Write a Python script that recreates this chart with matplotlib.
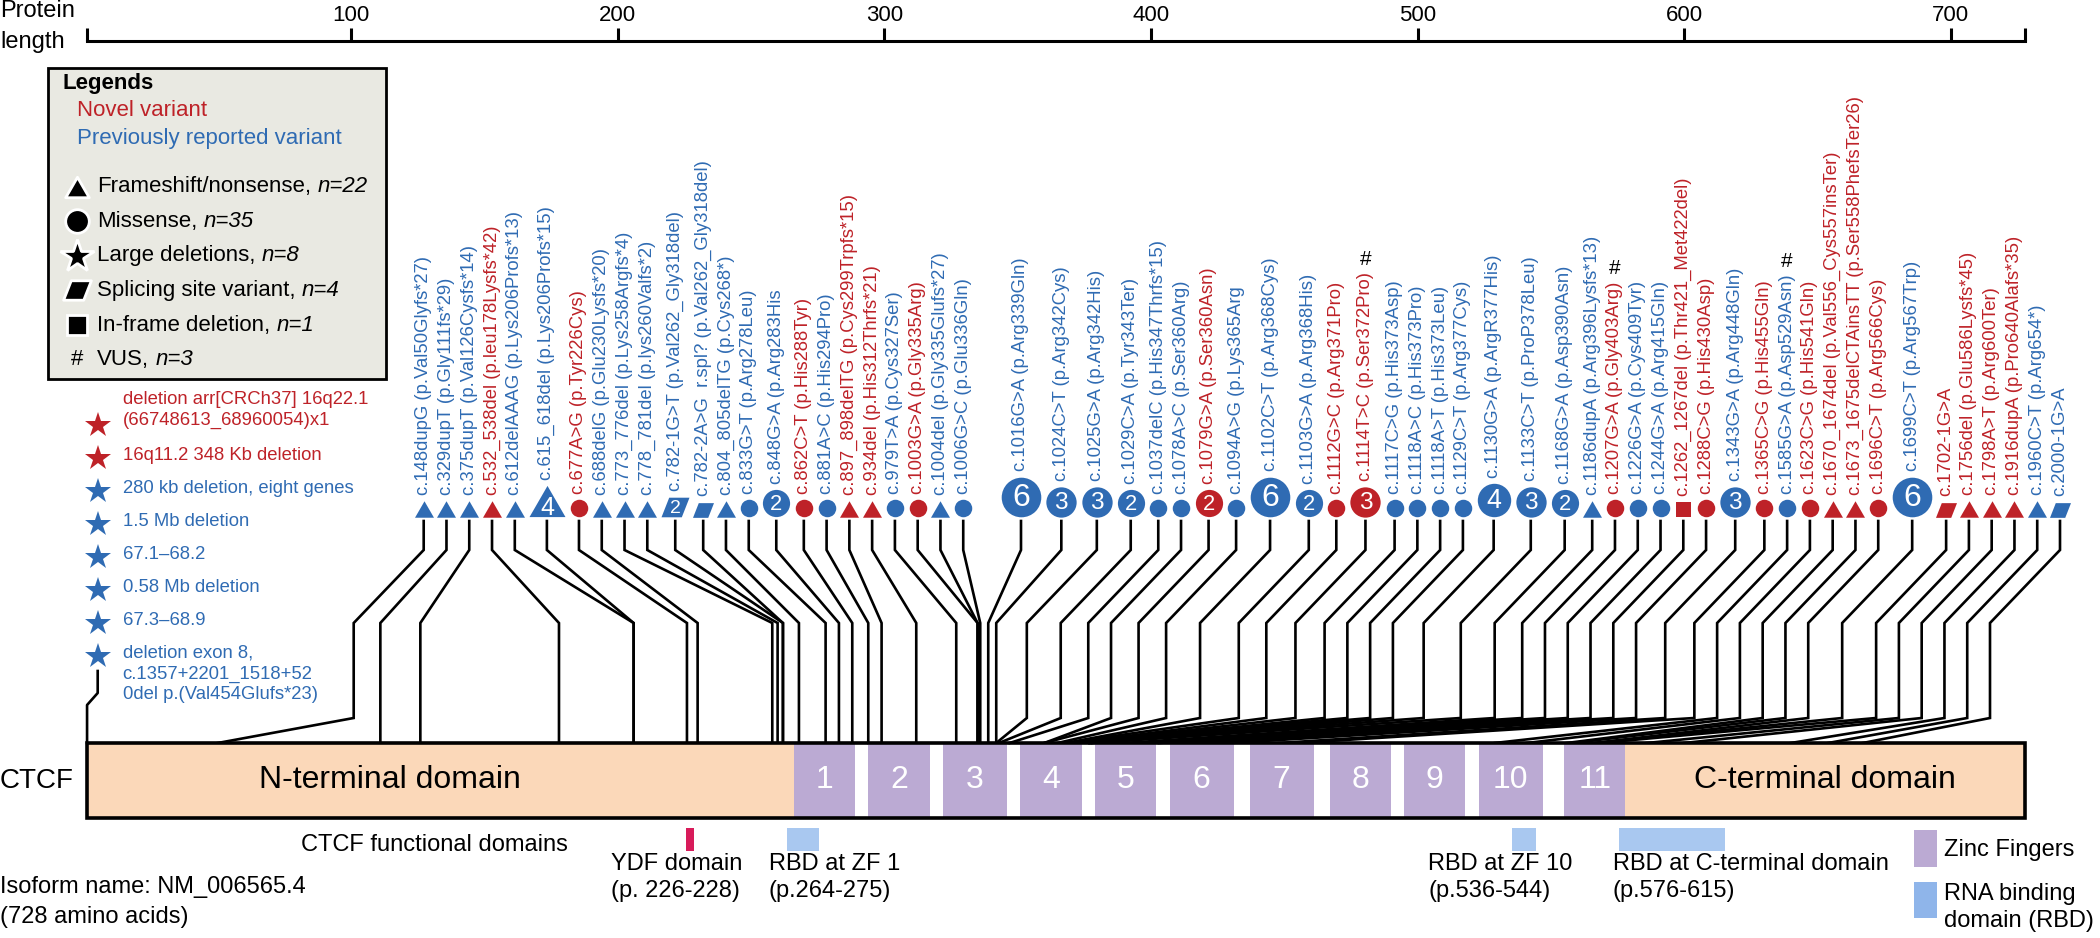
import numpy as np
import matplotlib
matplotlib.use("Agg")
import matplotlib.pyplot as plt
from matplotlib.path import Path
from matplotlib.patches import Rectangle

plt.rcParams["font.family"] = ["Liberation Sans", "DejaVu Sans"]

RED = "#BE2228"
BLUE = "#2F6BB3"
PEACH = "#FBD8B9"
LAVENDER = "#BBAAD3"
RBD_BLUE = "#A9C8F0"

# ---- variants, in the order they are drawn above the protein ----
variantLabels = [
    "c.148dupG (p.Val50Glyfs*27)", "c.329dupT (p.Gly111fs*29)", "c.375dupT (p.Val126Cysfs*14)",
    "c.532_538del (p.leu178Lysfs*42)", "c.612delAAAG (p.Lys206Profs*13)", "c.615_618del (p.Lys206Profs*15)",
    "c.677A>G (p.Tyr226Cys)", "c.688delG (p.Glu230Lysfs*20)", "c.773_776del (p.Lys258Argfs*4)",
    "c.778_781del (p.lys260Valfs*2)", "c.782-1G>T (p.Val262_Gly318del)", "c.782-2A>G  r.spl? (p.Val262_Gly318del)",
    "c.804_805delTG (p.Cys268*)", "c.833G>T (p.Arg278Leu)", "c.848G>A (p.Arg283His",
    "c.862C>T (p.His288Tyr)", "c.881A>C (p.His294Pro)", "c.897_898delTG (p.Cys299Trpfs*15)",
    "c.934del (p.His312Thrfs*21)", "c.979T>A (p.Cys327Ser)", "c.1003G>A (p.Gly335Arg)",
    "c.1004del (p.Gly335Glufs*27)", "c.1006G>C (p.Glu336Gln)", "c.1016G>A (p.Arg339Gln)",
    "c.1024C>T (p.Arg342Cys)", "c.1025G>A (p.Arg342His)", "c.1029C>A (p.Tyr343Ter)",
    "c.1037delC (p.His347Thrfs*15)", "c.1078A>C (p.Ser360Arg)", "c.1079G>A (p.Ser360Asn)",
    "c.1094A>G (p.Lys365Arg", "c.1102C>T (p.Arg368Cys)", "c.1103G>A (p.Arg368His)",
    "c.1112G>C (p.Arg371Pro)", "c.1114T>C (p.Ser372Pro)", "c.1117C>G (p.His373Asp)",
    "c.1118A>C (p.His373Pro)", "c.1118A>T (p.His373Leu)", "c.1129C>T (p.Arg377Cys)",
    "c.1130G>A (p.ArgR377His)", "c.1133C>T (p.ProP378Leu)", "c.1168G>A (p.Asp390Asn)",
    "c.1186dupA (p.Arg396Lysfs*13)", "c.1207G>A (p.Gly403Arg)", "c.1226G>A (p.Cys409Tyr)",
    "c.1244G>A (p.Arg415Gln)", "c.1262_1267del (p.Thr421_Met422del)", "c.1288C>G (p.His430Asp)",
    "c.1343G>A (p.Arg448Gln)", "c.1365C>G (p.His455Gln)", "c.1585G>A (p.Asp529Asn)",
    "c.1623C>G (p.His541Gln)", "c.1670_1674del (p.Val556_Cys557insTer)",
    "c.1673_1675delCTAinsTT (p.Ser558PhefsTer26)", "c.1696C>T (p.Arg566Cys)", "c.1699C>T (p.Arg567Trp)",
    "c.1702-1G>A", "c.1756del (p.Glu586Lysfs*45)", "c.1798A>T (p.Arg600Ter)",
    "c.1916dupA (p.Pro640Alafs*35)", "c.1960C>T (p.Arg654*)", "c.2000-1G>A",
]
variantPos = [50, 111, 126, 178, 206, 206, 226, 230, 258, 260, 262, 262, 268, 278, 283, 288, 294, 299,
              312, 327, 335, 335, 336, 339, 342, 342, 343, 347, 360, 360, 365, 368, 368, 371, 372, 373,
              373, 373, 377, 377, 378, 390, 396, 403, 409, 415, 421, 430, 448, 455, 529, 541, 556, 558,
              566, 567, 568, 586, 600, 640, 654, 667]
variantNovel = [0, 0, 0, 1, 0, 0, 1, 0, 0, 0, 0, 0, 0, 0, 0, 1, 0, 1, 1, 0, 1, 0, 0, 0, 0, 0, 0, 0, 0, 1, 0,
                0, 0, 1, 1, 0, 0, 0, 0, 0, 0, 0, 0, 1, 0, 0, 1, 1, 0, 1, 0, 1, 1, 1, 1, 0, 1, 1, 1, 1, 0, 0]
variantType = ["tri", "tri", "tri", "tri", "tri", "tri", "circ", "tri", "tri", "tri", "para", "para",
               "tri", "circ", "circ", "circ", "circ", "tri", "tri", "circ", "circ", "tri", "circ", "circ",
               "circ", "circ", "circ", "circ", "circ", "circ", "circ", "circ", "circ", "circ", "circ", "circ",
               "circ", "circ", "circ", "circ", "circ", "circ", "tri", "circ", "circ", "circ", "sq", "circ",
               "circ", "circ", "circ", "circ", "tri", "tri", "circ", "circ", "para", "tri", "tri", "tri",
               "tri", "para"]
variantCount = [1, 1, 1, 1, 1, 4, 1, 1, 1, 1, 2, 1, 1, 1, 2, 1, 1, 1, 1, 1, 1, 1, 1, 6, 3, 3, 2, 1, 1, 2, 1,
                6, 2, 1, 3, 1, 1, 1, 1, 4, 3, 2, 1, 1, 1, 1, 1, 1, 3, 1, 1, 1, 1, 1, 1, 6, 1, 1, 1, 1, 1, 1]
vusLabels = ["c.1114T>C (p.Ser372Pro)", "c.1207G>A (p.Gly403Arg)", "c.1585G>A (p.Asp529Asn)"]

largeDelLabels = [
    "deletion arr[CRCh37] 16q22.1\n(66748613_68960054)x1", "16q11.2 348 Kb deletion",
    "280 kb deletion, eight genes", "1.5 Mb deletion", "67.1\u201368.2", "0.58 Mb deletion",
    "67.3\u201368.9", "deletion exon 8,\nc.1357+2201_1518+52\n0del p.(Val454Glufs*23)",
]
largeDelNovel = [1, 1, 0, 0, 0, 0, 0, 0]

proteinLength = 728
ntermEnd = 266
ctermStart = 578
zfStart = [266, 294, 322, 351, 379, 407, 437, 467, 495, 523, 555]
zfEnd = [288, 316, 345, 373, 401, 430, 460, 489, 517, 546, 577]

domainNames = ["YDF domain\n(p. 226-228)", "RBD at ZF 1\n(p.264-275)",
               "RBD at ZF 10\n(p.536-544)", "RBD at C-terminal domain\n(p.576-615)"]
domainStart = [226, 264, 536, 576]
domainEnd = [228, 275, 544, 615]
domainColor = ["#D81B5A", RBD_BLUE, RBD_BLUE, RBD_BLUE]

legendNames = ["Frameshift/nonsense,", "Missense,", "Large deletions,",
               "Splicing site variant,", "In-frame deletion,", "VUS,"]
legendCounts = [22, 35, 8, 4, 1, 3]
rulerTicks = [100, 200, 300, 400, 500, 600, 700]

# ---- page geometry (pixels) ----
W, H = 2100, 938
X0, S = 84.4, 2.6662          # pixel column of residue 0, pixels per residue
PT = 72 / 100                 # pixels -> points


def px(xpix):
    # pixel column -> residue units of the main axes
    return (xpix - X0) / S


TRI = Path([(-1, -0.866), (1, -0.866), (0, 0.866), (-1, -0.866)], [1, 2, 2, 79])
PARA = Path([(-1, -0.7), (0.45, -0.7), (1, 0.7), (-0.45, 0.7), (-1, -0.7)], [1, 2, 2, 2, 79])
markerOf = {"circ": "o", "tri": TRI, "para": PARA, "sq": "s", "star": "*"}
heightRatio = {"circ": 1.0, "tri": 0.866, "para": 0.7, "sq": 1.0}


def markSize(kind, n):
    if n == 1:
        return {"circ": 17.5, "tri": 19, "para": 21, "sq": 15}[kind]
    return 21 + 3.1 * n if kind == "circ" else 20 + 4 * n


fig = plt.figure(figsize=(W / 100, H / 100), dpi=100)
ax = fig.add_axes([0, 0, 1, 1])
ax.set_xlim(px(0), px(W))
ax.set_ylim(H, 0)
ax.axis("off")
rend = fig.canvas.get_renderer()

# ---- ruler on top ----
rx0, rx1 = (X0 + S) / W, (X0 + S * proteinLength) / W
ruler = fig.add_axes([rx0, 1 - 40.7 / H - 0.02, rx1 - rx0, 0.02])
ruler.set_xlim(1, proteinLength)
ruler.patch.set_alpha(0)
for side in ["left", "right", "bottom"]:
    ruler.spines[side].set_visible(False)
ruler.spines["top"].set_linewidth(2.2)
ruler.xaxis.tick_top()
ruler.set_xticks([1] + rulerTicks + [proteinLength])
ruler.set_xticklabels([""] + [str(t) for t in rulerTicks] + [""])
ruler.tick_params(axis="x", direction="out", length=9.5, width=2.2, labelsize=16, pad=1)
ruler.set_yticks([])
ax.text(px(0), 11, "Protein", fontsize=17, va="center", ha="left")
ax.text(px(0), 42, "length", fontsize=17, va="center", ha="left")

# ---- variant markers, labels and connectors ----
n = len(variantLabels)
half = [9 if c == 1 else markSize(k, c) / 2 for k, c in zip(variantType, variantCount)]
steps = [half[i - 1] + half[i] + 4 for i in range(1, n)]
steps[22] += 23                       # gap before c.1016G>A
cum = np.concatenate([[0], np.cumsum(steps)])
slotX = 423.7 + cum / cum[-1] * (2060 - 423.7)
BASE = 517                            # bottom of the marker row

for i in range(n):
    kind, cnt = variantType[i], variantCount[i]
    col = RED if variantNovel[i] else BLUE
    size = markSize(kind, cnt)
    h = size * heightRatio[kind]
    sx = slotX[i]
    cy = BASE - h / 2
    ax.plot(px(sx), cy, marker=markerOf[kind], ms=size * PT, color=col, mew=0, zorder=5)
    if cnt > 1:
        ty = cy + (h / 6 if kind == "tri" else 0)
        fs = 0.58 * size if kind == "circ" else 0.5 * size
        ax.text(px(sx), ty + 1, str(cnt), color="white", fontsize=fs, ha="center", va="center", zorder=6)
    t = ax.text(px(sx), BASE - h - 6, variantLabels[i], rotation=90, ha="center", va="bottom",
                fontsize=13.3, color=col)
    if variantLabels[i] in vusLabels:
        bb = t.get_window_extent(renderer=rend)
        ytop = ax.transData.inverted().transform((0, bb.y1))[1]
        ax.text(px(sx), ytop - 3, "#", fontsize=15, ha="center", va="bottom")

    # connector: down, slanted to the residue, down to the protein
    bx = X0 + S * variantPos[i]
    kx = max(bx, sx - 70)
    xs = [sx, sx, kx]
    ys = [BASE + 4, 550, 623]
    if kx != bx:
        xs += [kx, bx]
        ys += [718, 743]
    else:
        xs += [bx]
        ys += [743]
    ax.plot([px(x) for x in xs], ys, color="black", lw=1.9, zorder=2, solid_joinstyle="miter")

# ---- large deletions (stars, left) ----
starX = 97.7
for j, (lab, nov) in enumerate(zip(largeDelLabels, largeDelNovel)):
    col = RED if nov else BLUE
    sy = 425 + 33 * j
    ax.plot(px(starX), sy, marker="*", ms=19, color=col, mew=0, zorder=5)
    lines = lab.count("\n")
    top = sy - 11 - (22.5 * lines if j == 0 else 0)
    ax.text(px(122.7), top, lab, fontsize=13.3, color=col, ha="left", va="top", linespacing=1.28)
    if j == len(largeDelLabels) - 1:
        ax.plot([px(starX), px(starX), 1, 1], [sy + 15, 693, 705, 743], color="black", lw=1.9, zorder=2)

# ---- protein bar ----
BAR_TOP, BAR_H = 743, 75
ax.add_patch(Rectangle((1, BAR_TOP), ntermEnd - 1, BAR_H, fc=PEACH, ec="none", zorder=3))
ax.add_patch(Rectangle((ctermStart, BAR_TOP), proteinLength - ctermStart, BAR_H, fc=PEACH, ec="none", zorder=3))
for k, (a, b) in enumerate(zip(zfStart, zfEnd)):
    ax.add_patch(Rectangle((a, BAR_TOP), b + 1 - a, BAR_H, fc=LAVENDER, ec="none", zorder=3))
    ax.text((a + b + 1) / 2, BAR_TOP + BAR_H / 2, str(k + 1), color="white", fontsize=23,
            ha="center", va="center", zorder=4)
ax.add_patch(Rectangle((1, BAR_TOP), proteinLength - 1, BAR_H, fill=False, ec="black", lw=2.6, zorder=4))
ax.text(px(390), BAR_TOP + BAR_H / 2, "N-terminal domain", fontsize=23, ha="center", va="center", zorder=4)
ax.text((ctermStart + proteinLength) / 2, BAR_TOP + BAR_H / 2, "C-terminal domain", fontsize=23,
        ha="center", va="center", zorder=4)
ax.text(px(0), BAR_TOP + BAR_H / 2, "CTCF", fontsize=20, ha="left", va="center")

# ---- functional domains below ----
ax.text(px(301), 845, "CTCF functional domains", fontsize=17, ha="left", va="center")
domainLabelX = [611, 769, 1428, 1613]
for name, a, b, c, lx in zip(domainNames, domainStart, domainEnd, domainColor, domainLabelX):
    ax.add_patch(Rectangle((a - 0.5, 828), b - a + 1, 23, fc=c, ec="none"))
    ax.text(px(lx), 853, name, fontsize=17, ha="left", va="top", linespacing=1.3)
ax.text(px(0), 887, "Isoform name: NM_006565.4", fontsize=17, ha="left", va="center")
ax.text(px(0), 917, "(728 amino acids)", fontsize=17, ha="left", va="center")

ax.add_patch(Rectangle((px(1914), 830), px(1937) - px(1914), 37, fc=LAVENDER, ec="none"))
ax.text(px(1944), 850, "Zinc Fingers", fontsize=17, ha="left", va="center")
ax.add_patch(Rectangle((px(1914), 882), px(1937) - px(1914), 36, fc="#8FB5EA", ec="none"))
ax.text(px(1944), 883, "RNA binding\ndomain (RBD)", fontsize=17, ha="left", va="top", linespacing=1.3)

# ---- legend box ----
ax.add_patch(Rectangle((px(47.7), 68.3), px(385.7) - px(47.7), 310.7, fc="#E9E9E2", ec="black",
                       lw=2, zorder=1))
ax.text(px(62.7), 83, "Legends", fontsize=16, fontweight="bold", ha="left", va="center")
ax.text(px(76.7), 110, "Novel variant", fontsize=16, color=RED, ha="left", va="center")
ax.text(px(76.7), 138.5, "Previously reported variant", fontsize=16, color=BLUE, ha="left", va="center")
legendKinds = ["tri", "circ", "star", "para", "sq", None]
legendMs = [17, 17, 25, 20, 14, 0]
for j, (name, cnt, kind, ms) in enumerate(zip(legendNames, legendCounts, legendKinds, legendMs)):
    ly = 186.7 + 34.6 * j
    if kind is None:
        ax.text(px(77.3), ly, "#", fontsize=16, ha="center", va="center")
    else:
        ax.plot(px(77.3), ly, marker=markerOf[kind], ms=ms, color="black", mec="white", mew=2.0, zorder=3)
    t = ax.text(px(97.3), ly, name, fontsize=16, ha="left", va="center")
    bb = t.get_window_extent(renderer=rend)
    xe = ax.transData.inverted().transform((bb.x1 + 6, 0))[0]
    ax.text(xe, ly, "n=%d" % cnt, fontsize=16, style="italic", ha="left", va="center")

fig.savefig("out.png", dpi=100)
